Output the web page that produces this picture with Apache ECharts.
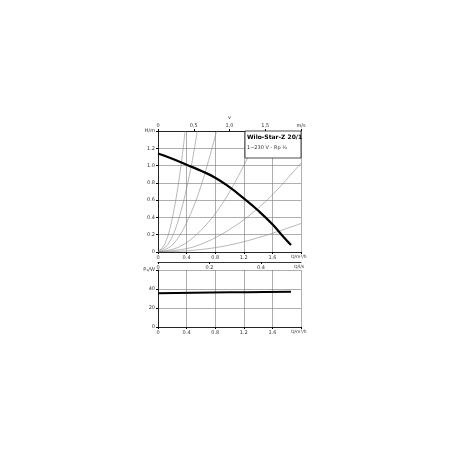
<!DOCTYPE html>
<html><head><meta charset="utf-8">
<script src="https://cdn.jsdelivr.net/npm/echarts@6/dist/echarts.min.js"></script>
<style>html,body{margin:0;background:#fff}#c{width:450px;height:450px}</style>
</head><body><div id="c"></div>
<script>
// pump curve H (m) over Q (m3/h)
var pumpCurve = [[0,1.14],[0.2,1.08],[0.4,1.01],[0.6,0.94],[0.8,0.86],[1.0,0.75],[1.2,0.62],[1.4,0.48],[1.6,0.32],[1.75,0.18],[1.86,0.08]];
// system curves
var sysCurves = [
  [[0,0],[0.1,0.1],[0.2,0.39],[0.3,0.87],[0.38,1.4]],
  [[0,0],[0.15,0.1],[0.3,0.41],[0.45,0.93],[0.55,1.4]],
  [[0,0],[0.2,0.08],[0.4,0.34],[0.6,0.76],[0.82,1.4]],
  [[0,0],[0.3,0.06],[0.6,0.25],[0.9,0.56],[1.2,1.0],[1.42,1.4]],
  [[0,0],[0.5,0.06],[1.0,0.26],[1.5,0.58],[2.0,1.03]],
  [[0,0],[0.5,0.02],[1.0,0.08],[1.5,0.19],[2.0,0.33]]
];
// power input P1 (W)
var powerCurve = [[0,35.5],[0.5,36],[1.0,36.5],[1.5,36.8],[1.86,37]];

var f = 'DejaVu Sans';
var lab = {fontSize:5, color:'#333', fontFamily:f};
function qAxis(grid){
  return {type:'value', gridIndex:grid, min:0, max:2.0, interval:0.4,
    axisLine:{lineStyle:{color:'#000',width:0.8}}, axisTick:{length:2,lineStyle:{color:'#000'}},
    splitLine:{show:true,lineStyle:{color:'#777',width:0.6}},
    axisLabel:Object.assign({margin:3, formatter:function(v){return v>=2?'':String(v);}}, lab)};
}
var series = [];
sysCurves.forEach(function(c){
  series.push({type:'line', xAxisIndex:0, yAxisIndex:0, data:c, smooth:0.35, symbol:'none',
    lineStyle:{color:'#888',width:0.6}, clip:true});
});
series.push({type:'line', xAxisIndex:0, yAxisIndex:0, data:pumpCurve, smooth:true, symbol:'none',
  lineStyle:{color:'#000',width:2.2}});
series.push({type:'line', xAxisIndex:3, yAxisIndex:1, data:powerCurve, smooth:true, symbol:'none',
  lineStyle:{color:'#000',width:2}});

var chart = echarts.init(document.getElementById('c'));
chart.setOption({
  animation:false,
  grid:[{left:158, top:131, width:143, height:121},{left:158, top:270, width:143, height:57}],
  xAxis:[
    qAxis(0),
    {type:'value', gridIndex:0, position:'top', min:0, max:2.0, interval:0.5,
      axisLine:{lineStyle:{color:'#000',width:0.8}}, axisTick:{length:2,lineStyle:{color:'#000'}}, splitLine:{show:false},
      axisLabel:Object.assign({margin:3, formatter:function(v){return v>=2?'m/s':(v===1?'1,0':(v===0.5?'0,5':(v===1.5?'1,5':'0')));}}, lab),
      name:'v', nameLocation:'middle', nameGap:11, nameTextStyle:lab},
    {type:'value', gridIndex:0, position:'bottom', offset:10, min:0, max:0.5556, interval:0.2,
      axisLine:{lineStyle:{color:'#000',width:0.8}}, axisTick:{length:2,lineStyle:{color:'#000'}}, splitLine:{show:false},
      axisLabel:Object.assign({margin:3, showMaxLabel:false, formatter:function(v){return v>0.5?'':String(v);}}, lab)},
    qAxis(1)
  ],
  yAxis:[
    {type:'value', gridIndex:0, min:0, max:1.4, interval:0.2,
      axisLine:{show:true,lineStyle:{color:'#000',width:0.8}}, axisTick:{show:true,length:2},
      splitLine:{lineStyle:{color:'#777',width:0.6}},
      axisLabel:Object.assign({margin:3, formatter:function(v){return v>=1.4?'H/m':(v===0?'0':v.toFixed(1));}}, lab)},
    {type:'value', gridIndex:1, min:0, max:60, interval:20,
      axisLine:{show:true,lineStyle:{color:'#000',width:0.8}}, axisTick:{show:true,length:2},
      splitLine:{lineStyle:{color:'#777',width:0.6}},
      axisLabel:Object.assign({margin:3, formatter:function(v){return v>=60?'P\u2081/W':String(v);}}, lab)}
  ],
  graphic:[
    {type:'rect', shape:{x:245,y:131,width:56,height:27}, style:{fill:'#fff',stroke:'#000',lineWidth:0.7}, z:100},
    {type:'text', left:247, top:134, z:101, style:{text:'Wilo-Star-Z 20/1', font:'bold 6px DejaVu Sans', fill:'#000'}},
    {type:'text', left:247, top:145, z:101, style:{text:'1~230 V - Rp \u00bd', font:'5px DejaVu Sans', fill:'#333'}},
    {type:'text', left:291, top:254, z:101, style:{text:'Q/m\u00b3/h', font:'4.5px DejaVu Sans', fill:'#333'}},
    {type:'text', left:294, top:264, z:101, style:{text:'Q/l/s', font:'4.5px DejaVu Sans', fill:'#333'}},
    {type:'text', left:291, top:329, z:101, style:{text:'Q/m\u00b3/h', font:'4.5px DejaVu Sans', fill:'#333'}}
  ],
  series:series
});
</script></body></html>
